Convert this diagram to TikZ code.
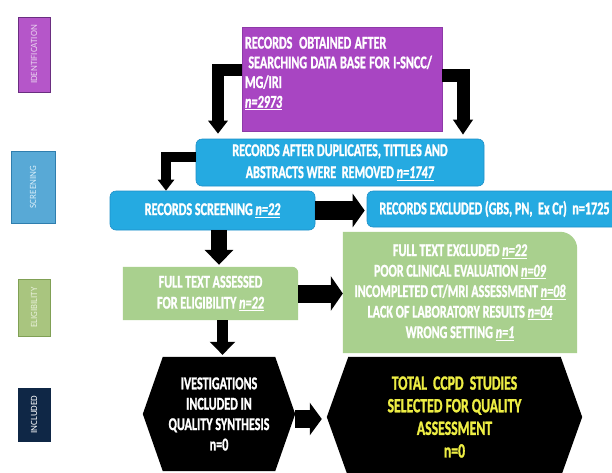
\documentclass[tikz,border=0pt]{standalone}
\usepackage{fontspec}
\setmainfont{Carlito}[FakeStretch=0.675, BoldFeatures={FakeBold=1.2}, BoldItalicFeatures={FakeBold=1.2}]
\newfontfamily\sidefont{Carlito}[FakeStretch=0.95]
\usetikzlibrary{arrows.meta,backgrounds,calc}
\definecolor{purp}{HTML}{A845C2}
\definecolor{purpd}{HTML}{8E3AA8}
\definecolor{blu}{HTML}{25AAE1}
\definecolor{blud}{HTML}{1E90C8}
\definecolor{grn}{HTML}{A9D08E}
\definecolor{hexy}{HTML}{EEEE44}
\definecolor{idf}{HTML}{B556C9}
\definecolor{idd}{HTML}{6A2E80}
\definecolor{idt}{HTML}{E9D3EF}
\definecolor{scf}{HTML}{58A9D6}
\definecolor{scd}{HTML}{2F7EAE}
\definecolor{sct}{HTML}{D9EEF9}
\definecolor{elf}{HTML}{A9C57F}
\definecolor{eld}{HTML}{80A055}
\definecolor{elt}{HTML}{E9F1DC}
\definecolor{inf}{HTML}{0F2746}
\newsavebox\nnbox
\newcommand{\nn}[1]{\leavevmode\sbox\nnbox{\textit{#1}}\rlap{\rule[-2.6pt]{\wd\nnbox}{1.1pt}}\usebox\nnbox}
\begin{document}
\begin{tikzpicture}[x=1pt,y=1pt,
  side/.style={rotate=90, inner sep=0pt, font=\sidefont\fontsize{9.5}{10}\selectfont, line width=0.8pt},
  main/.style={inner sep=0pt, font=\bfseries\fontsize{18}{19.7}\selectfont, text=white, align=center},
  blk/.style n args={3}{draw=black, line width=#1, line join=miter, -{Triangle[width=#2,length=#3]}},
]
\begin{scope}[on background layer]
\fill[white] (0,0) rectangle (612,-472);
\end{scope}
\useasboundingbox (0,0) rectangle (612,-472);

% side labels
\node[side, fill=idf, draw=idd, minimum width=75pt, minimum height=32pt, text=idt] (s1) at (34,-54.5) {IDENTIFICATION};
\node[side, fill=scf, draw=scd, minimum width=72pt, minimum height=44pt, text=sct] (s2) at (33,-187) {SCREENING};
\node[side, fill=elf, draw=eld, minimum width=57pt, minimum height=32pt, text=elt] (s3) at (34,-307.5) {ELIGIBILITY};
\node[side, fill=inf, draw=inf, minimum width=53pt, minimum height=32pt, text=white] (s4) at (34,-414.5) {INCLUDED};

% main boxes
\node[main, fill=purp, draw=purpd, line width=0.6pt, minimum width=200pt, minimum height=104pt, text width=194pt, align=left, text height=11.6pt, text depth=72.4pt,
      execute at begin node={\spaceskip=3.4pt plus 1pt\hyphenpenalty=10000 }] (rec1) at (342,-79)
  {RECORDS\ \ OBTAINED AFTER\\\ SEARCHING DATA BASE FOR I-SNCC/\\MG/IRI\\\nn{n=2973}};
\node[main, fill=blu, draw=blud, line width=0.6pt, rounded corners=6pt, minimum width=288pt, minimum height=47pt, font=\bfseries\fontsize{18}{22}\selectfont] (b1) at (340,-162.5)
  {RECORDS AFTER DUPLICATES, TITTLES AND\\ABSTRACTS WERE\ \ REMOVED \nn{n=1747}};
\node[main, fill=blu, draw=blud, line width=0.6pt, rounded corners=6pt, minimum width=205pt, minimum height=39pt] (b2) at (212.5,-210.5)
  {RECORDS SCREENING \nn{n=22}};
\node[main, fill=blu, draw=blud, line width=0.6pt, rounded corners=6pt, minimum width=255pt, minimum height=36pt] (b3) at (494.5,-209)
  {RECORDS EXCLUDED (GBS, PN,\ \ Ex Cr)\ \ n=1725};
\node[main, minimum width=175pt, minimum height=53pt, font=\bfseries\fontsize{18}{21}\selectfont] (g1) at (210.5,-293.5)
  {FULL TEXT ASSESSED\\FOR ELIGIBILITY \nn{n=22}};
\node[main, minimum width=234pt, minimum height=121pt, font=\bfseries\fontsize{18}{20.5}\selectfont] (g2) at (460,-292.5)
  {FULL TEXT EXCLUDED \nn{n=22}\\POOR CLINICAL EVALUATION \nn{n=09}\\INCOMPLETED CT/MRI ASSESSMENT \nn{n=08}\\LACK OF LABORATORY RESULTS \nn{n=04}\\WRONG SETTING \nn{n=1}};
\node[main, minimum width=152pt, minimum height=114pt, font=\bfseries\fontsize{18}{20.4}\selectfont] (h1) at (219,-414)
  {IVESTIGATIONS\\INCLUDED IN\\QUALITY SYNTHESIS\\n=0};
\node[main, text=hexy, minimum width=255pt, minimum height=120pt, font=\bfseries\fontsize{20.3}{22.6}\selectfont] (h2) at (454.5,-417)
  {TOTAL\ \ CCPD\ \ STUDIES\\SELECTED FOR QUALITY\\ASSESSMENT\\n=0};

\begin{scope}[on background layer]
\fill[grn] (g1.south west) -- (g1.north west) -- ([xshift=-6pt]g1.north east) arc[start angle=90,end angle=0,radius=6pt] -- (g1.south east) -- cycle;
\fill[grn] (g2.south west) -- (g2.north west) -- ([xshift=-17pt]g2.north east) arc[start angle=90,end angle=0,radius=17pt] -- (g2.south east) -- cycle;
\fill[black] (h1.west) -- ([xshift=20pt]h1.north west) -- ([xshift=-20pt]h1.north east) -- (h1.east) -- ([xshift=-20pt]h1.south east) -- ([xshift=20pt]h1.south west) -- cycle;
\fill[black] (h2.west) -- ([xshift=21.5pt]h2.north west) -- ([xshift=-21.5pt]h2.north east) -- (h2.east) -- ([xshift=-21.5pt]h2.south east) -- ([xshift=21.5pt]h2.south west) -- cycle;
\end{scope}

% connectors
\draw[blk={12pt}{19pt}{13pt}] ([yshift=9pt]rec1.west) -| ([xshift=-122pt,yshift=5pt]b1.north);
\draw[blk={13pt}{19pt}{15pt}] ([yshift=4pt]rec1.east) -| ([xshift=123pt,yshift=4pt]b1.north);
\draw[blk={10pt}{16pt}{11pt}] ([yshift=5.5pt]b1.west) -| ([xshift=-46.5pt]b2.north);
\draw[blk={19pt}{33pt}{12pt}] (b2.east) -- ([xshift=-2pt]b3.west |- b2.east);
\draw[blk={16pt}{28pt}{15pt}] ([xshift=6.5pt]b2.south) -- ([xshift=6.5pt,yshift=2pt]b2.south |- g1.north);
\draw[blk={18pt}{34pt}{12pt}] (g1.east) -- (g1.east -| g2.west);
\draw[blk={11pt}{25pt}{13pt}] ([xshift=12pt]g1.south) -- ([xshift=12pt,yshift=2pt]g1.south |- h1.north);
\draw[blk={18pt}{32pt}{12pt}] ([yshift=-5pt]h1.east) -- ([xshift=-5pt,yshift=-5pt]h1.east -| h2.west);
\end{tikzpicture}
\end{document}
